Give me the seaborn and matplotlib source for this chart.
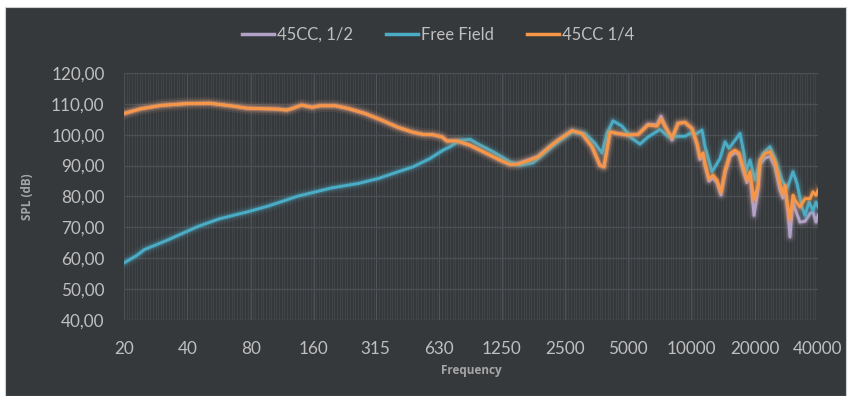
import numpy as np
import pandas as pd
import matplotlib
matplotlib.use("Agg")
import matplotlib.pyplot as plt
import matplotlib.patheffects as pe
from matplotlib.patches import Rectangle
from matplotlib.ticker import FuncFormatter, FixedLocator, NullFormatter
import seaborn as sns

# data
cc_freq = [20, 24, 30, 40, 51, 64, 77, 96, 108, 119, 126, 140, 157, 171, 202, 233, 280, 337,
           402, 469, 529, 590, 651, 688, 767, 885, 1066, 1229, 1371, 1480, 1707, 1863, 2125,
           2319, 2704, 3017, 3366, 3675, 3838, 4099, 4475, 4992, 5570, 6216, 6858, 7166, 7488,
           8085, 8634, 9320, 10060, 10628, 10982, 11350, 11602, 12122, 12666, 13232, 13824,
           14446, 15258, 16116, 16838, 17592, 18380, 18996, 19844, 20732, 21192, 22384, 23644,
           24980, 26380, 27260, 27860, 28800, 29440, 30420, 31100, 32840, 34700, 36660, 37860,
           39120, 40000]
cc_quarter = [106.9, 108.4, 109.5, 110.1, 110.2, 109.4, 108.6, 108.4, 108.3, 108.0, 108.5, 109.6,
              108.9, 109.4, 109.4, 108.5, 106.9, 104.7, 102.4, 100.9, 100.1, 100.0, 99.3, 98.0,
              98.0, 96.6, 93.9, 91.8, 90.4, 90.4, 91.8, 92.8, 96.2, 98.2, 101.3, 100.4, 96.1,
              90.1, 89.6, 100.9, 100.4, 99.9, 100.1, 103.1, 102.8, 105.0, 102.6, 99.1, 103.7,
              104.0, 102.0, 97.2, 92.8, 94.1, 90.7, 85.8, 86.9, 85.3, 81.5, 88.5, 93.9, 95.0,
              94.1, 89.6, 85.3, 88.0, 79.0, 83.6, 91.8, 93.9, 94.5, 91.2, 84.2, 80.9, 83.6,
              76.6, 72.8, 80.4, 78.8, 76.6, 79.3, 79.3, 81.5, 80.4, 82.0]
cc_half = [106.9, 108.4, 109.5, 110.1, 110.2, 109.4, 108.6, 108.4, 108.3, 108.0, 108.5, 109.6,
           108.9, 109.4, 109.4, 108.5, 106.9, 104.7, 102.4, 100.9, 100.1, 100.0, 99.3, 98.0,
           98.0, 96.6, 93.9, 91.8, 90.4, 90.6, 92.0, 93.0, 96.2, 98.2, 101.3, 100.4, 96.1,
           90.1, 89.6, 100.9, 100.4, 99.9, 100.1, 103.4, 103.2, 106.0, 103.0, 98.3, 103.7,
           104.0, 102.0, 96.8, 92.0, 93.5, 90.0, 85.0, 86.0, 84.5, 80.5, 87.5, 93.0, 94.2,
           93.5, 88.5, 84.5, 87.0, 73.9, 82.0, 90.5, 92.5, 93.0, 89.5, 82.0, 79.5, 82.0,
           74.5, 66.9, 78.5, 76.0, 71.7, 72.0, 74.5, 75.0, 71.7, 74.0]

ff_freq = [20, 23, 25, 32, 45, 57, 77, 97, 134, 195, 259, 323, 402, 474, 571, 658, 710, 793,
           885, 955, 1138, 1371, 1530, 1764, 2125, 2319, 2704, 3116, 3478, 3754, 3966, 4236,
           4674, 5216, 5694, 6216, 7088, 7736, 9320, 9844, 10628, 11226, 11602, 12526, 13678,
           14446, 15092, 16116, 17022, 17786, 18178, 18996, 20064, 20960, 21900, 23644, 24980,
           26960, 28480, 30420, 31780, 33560, 34700, 36260, 37860, 39120, 40000]
free_field = [58.5, 60.9, 62.8, 65.8, 70.3, 72.8, 75.0, 76.9, 80.1, 82.8, 84.2, 85.8, 88.0, 89.6,
              92.3, 95.0, 96.1, 98.2, 98.5, 97.2, 94.5, 91.2, 90.1, 90.9, 95.6, 97.7, 100.9,
              100.4, 97.2, 94.1, 100.4, 104.5, 102.8, 98.8, 97.0, 99.3, 101.7, 99.5, 99.5,
              100.4, 100.4, 101.5, 96.1, 88.0, 92.3, 97.7, 95.6, 98.2, 100.4, 93.9, 88.0, 91.8,
              85.3, 90.1, 93.9, 96.1, 92.3, 85.3, 82.6, 88.0, 84.2, 76.6, 73.9, 78.2, 75.5,
              78.2, 76.6]

tick_freqs = [20, 40, 80, 160, 315, 630, 1250, 2500, 5000, 10000, 20000, 40000]
series_names = ["45CC, 1/2", "Free Field", "45CC 1/4"]
colors = {"45CC, 1/2": "#b3a2c7", "Free Field": "#4bacc6", "45CC 1/4": "#f79646"}

df = pd.concat([
    pd.DataFrame({"Frequency": cc_freq, "SPL": cc_half, "series": series_names[0]}),
    pd.DataFrame({"Frequency": ff_freq, "SPL": free_field, "series": series_names[1]}),
    pd.DataFrame({"Frequency": cc_freq, "SPL": cc_quarter, "series": series_names[2]}),
])

bg = "#36393c"
txt = "#bfbfbf"
plt.rcParams["font.family"] = ["Lato", "DejaVu Sans"]

fig = plt.figure(figsize=(8.51, 3.96), dpi=100, facecolor="white")
fig.patches.append(Rectangle((5 / 851, 0), 841 / 851, 389 / 396, transform=fig.transFigure,
                             facecolor=bg, edgecolor="#d0d0d0", lw=0.8, zorder=-10))
ax = fig.add_axes([124 / 851, 76 / 396, 694 / 851, 247 / 396])
ax.set_facecolor(bg)

sns.lineplot(data=df, x="Frequency", y="SPL", hue="series", hue_order=series_names,
             palette=colors, linewidth=2.1, ax=ax, legend=True)

for line in ax.lines:
    c = line.get_color()
    line.set_path_effects([pe.Stroke(linewidth=9, foreground=c, alpha=0.06),
                           pe.Stroke(linewidth=6, foreground=c, alpha=0.12),
                           pe.Stroke(linewidth=3.8, foreground=c, alpha=0.25),
                           pe.Normal()])

ax.set_xscale("log")
ax.set_xlim(20, 40000)
ax.set_ylim(40, 120)
ax.xaxis.set_major_locator(FixedLocator(tick_freqs))
ax.xaxis.set_major_formatter(FuncFormatter(lambda v, p: f"{v:g}"))
ax.xaxis.set_minor_locator(FixedLocator(np.geomspace(20, 40000, 265)))
ax.xaxis.set_minor_formatter(NullFormatter())
ax.set_yticks(np.arange(40, 121, 10))
ax.yaxis.set_major_formatter(FuncFormatter(lambda v, p: f"{v:.2f}".replace(".", ",")))

ax.grid(axis="y", which="major", color="#4c5054", lw=1.0)
ax.grid(axis="x", which="minor", color="#5a5e62", lw=0.5, alpha=0.45)
ax.grid(axis="x", which="major", color="#5e6266", lw=0.7, alpha=0.6)
ax.set_axisbelow(True)
for s in ax.spines.values():
    s.set_visible(False)
ax.tick_params(axis="both", which="both", length=0, colors=txt, labelsize=12.3)
ax.tick_params(axis="x", pad=15)
ax.tick_params(axis="y", pad=14)

label_font = ["Open Sans", "DejaVu Sans"]
ax.set_xlabel("Frequency", color="#a6a6a6", fontsize=8.5, fontweight="bold", labelpad=5,
              family=label_font)
ax.set_ylabel("SPL (dB)", color="#a6a6a6", fontsize=8.5, fontweight="bold", labelpad=12,
              family=label_font)

handles, labels = ax.get_legend_handles_labels()
for h in handles:
    h.set_linewidth(2.5)
    h.set_path_effects([])
ax.legend(handles, labels, loc="center", bbox_to_anchor=(0.515, 0.912),
          bbox_transform=fig.transFigure, ncol=3, frameon=False, fontsize=12,
          labelcolor=txt, handlelength=1.9, handletextpad=0.2, columnspacing=2.0)

fig.savefig("out.png", dpi=100, facecolor=fig.get_facecolor())
